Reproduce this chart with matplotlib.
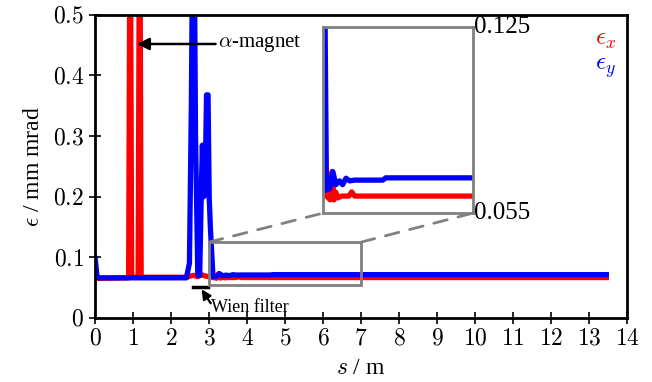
import matplotlib
matplotlib.use('Agg')
from matplotlib import pyplot as plt
from matplotlib.patches import Rectangle, ConnectionPatch

# emittance along the beamline
s_x = [0.0, 0.88, 0.91, 0.93, 0.96, 1.13, 1.16, 1.18, 1.21, 2.4, 2.5, 2.6, 2.7, 2.8,
       2.9, 3.0, 3.1, 3.15, 3.2, 3.25, 3.3, 3.35, 3.4, 3.5, 3.7, 3.77, 3.85, 4.0, 13.45]
eps_x = [0.065, 0.066, 0.6, 0.6, 0.067, 0.067, 0.6, 0.6, 0.067, 0.067, 0.069, 0.07, 0.068, 0.071,
         0.069, 0.068, 0.0665, 0.066, 0.0655, 0.073, 0.0655, 0.0675, 0.066, 0.0665, 0.0665, 0.0676, 0.0665, 0.0665, 0.0665]

s_y = [0.0, 0.05, 0.1, 2.4, 2.48, 2.53, 2.56, 2.61, 2.64, 2.7, 2.75, 2.79, 2.82, 2.86, 2.9, 2.93, 2.97,
       3.0, 3.03, 3.1, 3.19, 3.27, 3.35, 3.45, 3.53, 3.62, 3.72, 3.85, 4.6, 4.68, 13.45]
eps_y = [0.098, 0.067, 0.066, 0.066, 0.09, 0.35, 0.6, 0.6, 0.3, 0.07, 0.07, 0.2, 0.285, 0.2, 0.25, 0.368, 0.368,
         0.2, 0.15, 0.068, 0.0685, 0.0729, 0.0695, 0.0705, 0.0695, 0.0712, 0.0705, 0.0707, 0.0707, 0.0713, 0.0713]

xticks = list(range(0, 15))
yticks = [0, 0.1, 0.2, 0.3, 0.4, 0.5]
ytick_labels = ['0', '0.1', '0.2', '0.3', '0.4', '0.5']

plt.rcParams['font.family'] = 'serif'
plt.rcParams['font.serif'] = ['Liberation Serif', 'DejaVu Serif']
plt.rcParams['mathtext.fontset'] = 'cm'

fig = plt.figure(figsize=(6.52, 3.82), dpi=100)
ax = fig.add_axes([0.146, 0.168, 0.816, 0.793])

ax.plot(s_x, eps_x, color='#ff0000', lw=3.8)
ax.plot(s_y, eps_y, color='#0000ff', lw=3.8)

ax.set_xlim(0, 14)
ax.set_ylim(0, 0.5)
ax.set_xticks(xticks, labels=['$%d$' % t for t in xticks])
ax.set_yticks(yticks, labels=['$%s$' % t for t in ytick_labels])
ax.tick_params(direction='inout', length=9, width=1.2, labelsize=17, top=False, right=False)
for sp in ax.spines.values():
    sp.set_linewidth(2)
ax.set_xlabel('$s$ / m', fontsize=17, labelpad=6)
ax.set_ylabel(r'$\epsilon$ / mm mrad', fontsize=17, labelpad=6)

# zoom window
ax.add_patch(Rectangle((3, 0.055), 4, 0.07, fill=False, ec='#808080', lw=2, zorder=5))

ax.annotate(r'$\alpha$-magnet', xy=(1.1, 0.452), xytext=(3.24, 0.452), fontsize=15,
            va='center', ha='left',
            arrowprops=dict(arrowstyle='-|>', color='black', lw=1.8, mutation_scale=18,
                            shrinkA=0, shrinkB=0))
ax.plot([2.58, 2.97], [0.051, 0.051], color='black', lw=2.5, clip_on=False)
ax.annotate('', xy=(2.8, 0.047), xytext=(3.04, 0.024),
            arrowprops=dict(arrowstyle='-|>', color='black', lw=1.6, mutation_scale=14,
                            shrinkA=0, shrinkB=0))
ax.text(3.05, 0.017, 'Wien filter', fontsize=13, va='center', ha='left')

fig.text(0.913, 0.895, r'$\epsilon_x$', color='#ff0000', fontsize=18, ha='left', va='center')
fig.text(0.913, 0.822, r'$\epsilon_y$', color='#0000ff', fontsize=18, ha='left', va='center')

# inset
axin = fig.add_axes([0.495, 0.442, 0.230, 0.487])
axin.plot(s_x, eps_x, color='#ff0000', lw=3.8)
axin.plot(s_y, eps_y, color='#0000ff', lw=3.8)
axin.set_xlim(3, 7)
axin.set_ylim(0.062, 0.111)
axin.set_xticks([])
axin.set_yticks([])
for sp in axin.spines.values():
    sp.set_color('#808080')
    sp.set_linewidth(2)
fig.text(0.727, 0.929, '0.125', fontsize=18, ha='left', va='center')
fig.text(0.727, 0.442, '0.055', fontsize=18, ha='left', va='center')

for xa, xb in [((3, 0.125), (0, 0)), ((7, 0.125), (1, 0))]:
    con = ConnectionPatch(xyA=xa, coordsA=ax.transData, xyB=xb, coordsB=axin.transAxes,
                          color='#808080', lw=2, ls=(0, (5, 4)))
    fig.add_artist(con)

plt.savefig('out.png', dpi=100)
